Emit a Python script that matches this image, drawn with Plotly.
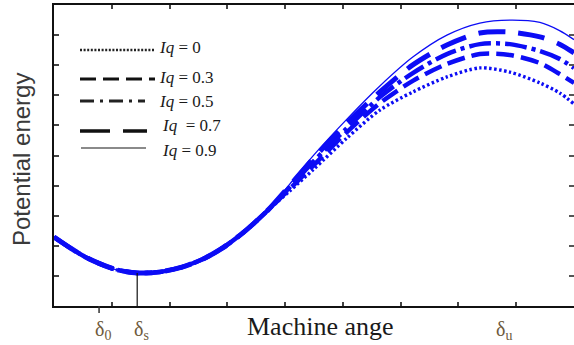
import plotly.graph_objects as go

# ---------------- data (abstract units) ----------------
angle_common = [0.00, 0.28, 0.54, 0.80, 1.09, 1.44, 1.83, 2.23, 2.58, 2.92, 3.27, 3.69]
energy_common = [2.29, 1.93, 1.63, 1.40, 1.20, 1.10, 1.13, 1.30, 1.56, 1.93, 2.43, 3.16]

angle_tail = [4.08, 4.48, 5.07, 5.64, 6.21, 6.80, 7.37, 7.89, 8.41, 8.75, 9.00]
energy_iq0 = [3.82, 4.52, 5.58, 6.51, 7.11, 7.61, 7.91, 7.77, 7.41, 7.08, 6.71]
energy_iq03 = [3.89, 4.65, 5.78, 6.74, 7.48, 8.04, 8.37, 8.34, 8.07, 7.71, 7.41]
energy_iq05 = [3.95, 4.78, 5.91, 6.94, 7.74, 8.37, 8.70, 8.70, 8.47, 8.21, 7.91]
energy_iq07 = [4.00, 4.88, 6.08, 7.11, 8.01, 8.67, 9.07, 9.10, 8.94, 8.70, 8.41]
energy_iq09 = [4.05, 4.98, 6.21, 7.31, 8.27, 9.00, 9.40, 9.50, 9.42, 9.15, 8.85]

series_names = ["Iq = 0", "Iq = 0.3", "Iq = 0.5", "Iq = 0.7", "Iq = 0.9"]
series_labels = ["<i>Iq</i> = 0", "<i>Iq</i> = 0.3", "<i>Iq</i> = 0.5", "<i>Iq</i>  = 0.7", "<i>Iq</i> = 0.9"]
series_tails = [energy_iq0, energy_iq03, energy_iq05, energy_iq07, energy_iq09]

angle_marks = {"δ<sub>0</sub>": 0.78, "δ<sub>s</sub>": 1.44, "δ<sub>u</sub>": 7.72}
x_ticks = [1, 2, 3, 4, 5, 6, 7, 8]
y_ticks = [1, 2, 3, 4, 5, 6, 7, 8, 9]
x_range = [0, 9]
y_range = [0, 10]

# ---------------- styles ----------------
BLUE = "rgb(12,12,245)"
curve_styles = [
    dict(width=3.4, dash="2.5px,2.5px"),
    dict(width=4.5, dash="18px,7px"),
    dict(width=4.5, dash="22px,5px,4px,5px"),
    dict(width=5, dash="27px,13px"),
    dict(width=1.3, dash="solid"),
]
legend_styles = [
    dict(width=2.5, dash="2px,1.6px", color="#222"),
    dict(width=3, dash="16px,7px", color="#111"),
    dict(width=3, dash="14px,6px,3px,6px", color="#222"),
    dict(width=3.5, dash="30px,13px", color="#111"),
    dict(width=2, dash="solid", color="#8a8a8a"),
]

W, H = 574, 345
L, R, T, B = 54, 0, 5, 39
PW, PH = W - L - R, H - T - B


def px_x(px):
    return (px - L) / PW


def px_y(py):
    return (H - B - py) / PH


fig = go.Figure()
for name, tail, st in zip(series_names, series_tails, curve_styles):
    fig.add_trace(go.Scatter(
        x=angle_common + angle_tail,
        y=energy_common + tail,
        mode="lines",
        name=name,
        line=dict(color=BLUE, width=st["width"], dash=st["dash"], shape="spline", smoothing=0.8),
        showlegend=False,
        hoverinfo="skip",
    ))

# invisible helper so the right-hand tick axis is drawn
fig.add_trace(go.Scatter(x=[angle_common[0]], y=[energy_common[0]], yaxis="y2",
                         mode="markers", marker=dict(opacity=0), showlegend=False,
                         hoverinfo="skip"))

shapes = []
annotations = []

# legend samples (hand-drawn, as in the figure)
leg_rows = [(50, 80, 155, 157, 47), (79, 80, 155, 157, 77), (101, 80, 145, 157, 101),
            (131, 80, 147, 160, 126), (148, 81, 146, 160, 150)]
for (ly, lx0, lx1, tx, ty), st, lab in zip(leg_rows, legend_styles, series_labels):
    shapes.append(dict(type="line", xref="paper", yref="paper",
                       x0=px_x(lx0), x1=px_x(lx1), y0=px_y(ly), y1=px_y(ly),
                       line=dict(color=st["color"], width=st["width"], dash=st["dash"])))
    annotations.append(dict(xref="paper", yref="paper", x=px_x(tx), y=px_y(ty),
                            xanchor="left", yanchor="middle", showarrow=False, text=lab,
                            font=dict(family="Liberation Serif", size=17, color="#1a1a1a")))

# delta_s drop line from the minimum to the axis
ds = angle_marks["δ<sub>s</sub>"]
shapes.append(dict(type="line", xref="x", yref="y", x0=ds, x1=ds, y0=y_range[0],
                   y1=min(energy_common), line=dict(color="#111", width=1.2)))
# delta_0 outward tick
d0 = angle_marks["δ<sub>0</sub>"]
d0p = (d0 - x_range[0]) / (x_range[1] - x_range[0])
shapes.append(dict(type="line", xref="paper", yref="paper", x0=d0p, x1=d0p,
                   y0=0, y1=px_y(313), line=dict(color="#333", width=1.5)))

for lab, val in angle_marks.items():
    annotations.append(dict(xref="x", yref="paper", x=val, y=px_y(330), xanchor="center",
                            yanchor="middle", showarrow=False, text=lab, xshift=4,
                            font=dict(family="Liberation Serif", size=20, color="#6e5a3c")))

annotations.append(dict(xref="paper", yref="paper", x=px_x(320), y=px_y(327),
                        xanchor="center", yanchor="middle", showarrow=False,
                        text="Machine ange",
                        font=dict(family="Liberation Serif", size=26, color="#1a1a1a")))
annotations.append(dict(xref="paper", yref="paper", x=px_x(22), y=px_y(160),
                        xanchor="center", yanchor="middle", showarrow=False,
                        text="Potential energy", textangle=-90,
                        font=dict(family="Liberation Sans", size=24, color="#3a3a3a")))

fig.update_layout(
    width=W, height=H,
    margin=dict(l=L, r=R, t=T, b=B),
    paper_bgcolor="white", plot_bgcolor="white",
    showlegend=False,
    xaxis=dict(range=x_range, tickmode="array", tickvals=x_ticks, ticks="inside",
               ticklen=4, tickwidth=1.5, tickcolor="#444", showticklabels=False,
               showgrid=False, zeroline=False, showline=True, linewidth=2,
               linecolor="#111", mirror="ticks"),
    yaxis=dict(range=y_range, tickmode="array", tickvals=y_ticks, ticks="inside",
               ticklen=5, tickwidth=1.5, tickcolor="#444", showticklabels=False,
               showgrid=False, zeroline=False, showline=True, linewidth=2,
               linecolor="#111"),
    yaxis2=dict(range=y_range, overlaying="y", side="right", tickmode="array",
                tickvals=y_ticks, ticks="inside", ticklen=5, tickwidth=1.5,
                tickcolor="#555", showticklabels=False, showgrid=False,
                zeroline=False, showline=False),
    shapes=shapes,
    annotations=annotations,
)

fig.write_html("out.html", config={"displayModeBar": False},
               post_script="document.body.style.margin='0';document.body.style.overflow='hidden';")
